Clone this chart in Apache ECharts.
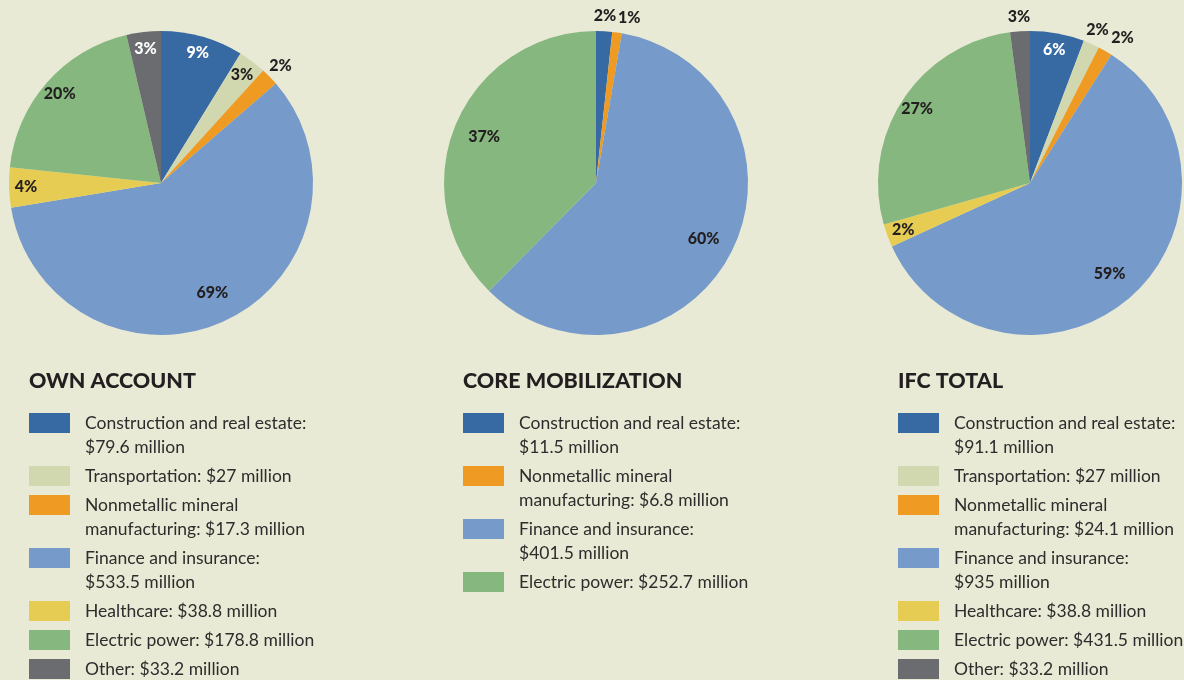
<!DOCTYPE html>
<html>
<head>
<meta charset="utf-8">
<script src="https://cdn.jsdelivr.net/npm/echarts@6/dist/echarts.min.js"></script>
<style>
  html, body { margin: 0; padding: 0; background: #e9ead5; }
  #chart { width: 1184px; height: 680px; }
</style>
</head>
<body>
<div id="chart"></div>
<script>
// sectors shared by all three pies
var sectors = ['Construction and real estate', 'Transportation', 'Nonmetallic mineral manufacturing',
  'Finance and insurance', 'Healthcare', 'Electric power', 'Other'];
var legendPrefix = ['Construction and real estate:\n', 'Transportation: ', 'Nonmetallic mineral\nmanufacturing: ',
  'Finance and insurance:\n', 'Healthcare: ', 'Electric power: ', 'Other: '];
var sectorColors = ['#3769a3', '#d1d8af', '#ef9a22', '#769bca', '#e7cc53', '#86b77e', '#6b6c70'];
var darkSector = [true, false, false, false, false, false, true];

// $ million, and the percentages as printed on the slices
var ownIdx = [0, 1, 2, 3, 4, 5, 6];
var ownValues = [79.6, 27, 17.3, 533.5, 38.8, 178.8, 33.2];
var ownPct = [9, 3, 2, 69, 4, 20, 3];

var coreIdx = [0, 2, 3, 5];
var coreValues = [11.5, 6.8, 401.5, 252.7];
var corePct = [2, 1, 60, 37];

var totalIdx = [0, 1, 2, 3, 4, 5, 6];
var totalValues = [91.1, 27, 24.1, 935, 38.8, 431.5, 33.2];
var totalPct = [6, 2, 2, 59, 2, 27, 3];

var titles = ['OWN ACCOUNT', 'CORE MOBILIZATION', 'IFC TOTAL'];

var panels = [
  { title: titles[0], idx: ownIdx, values: ownValues, pct: ownPct, cx: 161, lx: 29 },
  { title: titles[1], idx: coreIdx, values: coreValues, pct: corePct, cx: 596, lx: 463 },
  { title: titles[2], idx: totalIdx, values: totalValues, pct: totalPct, cx: 1030, lx: 898 }
];

var CY = 183, R = 152;
var FONT = 'Lato, "Open Sans", sans-serif';
var TEXT = '#231f20';

function sum(a) { return a.reduce(function (s, v) { return s + v; }, 0); }
function sizeClass(share) { return share < 0.023 ? 'small' : (share >= 0.3 ? 'big' : 'mid'); }

function mainPie(p) {
  return {
    type: 'pie', silent: true, animation: false,
    center: [p.cx, CY], radius: [0, R], startAngle: 90, clockwise: true,
    label: { show: false }, labelLine: { show: false },
    data: p.values.map(function (v, i) {
      return { name: sectors[p.idx[i]], value: v, itemStyle: { color: sectorColors[p.idx[i]] } };
    })
  };
}

// transparent ring that only carries the labels of one size class at a given distance
function labelPie(p, cls, dist) {
  var total = sum(p.values);
  var classes = p.values.map(function (v) { return sizeClass(v / total); });
  return {
    type: 'pie', silent: true, animation: false,
    center: [p.cx, CY], radius: [0, dist * 2], startAngle: 90, clockwise: true,
    itemStyle: { color: 'rgba(0,0,0,0)' }, labelLine: { show: false },
    emphasis: { disabled: true },
    labelLayout: { hideOverlap: false },
    label: {
      position: 'inside', fontFamily: FONT, fontWeight: 900, fontSize: 16,
      formatter: function (q) { return p.pct[q.dataIndex] + '%'; }
    },
    data: p.values.map(function (v, i) {
      var c = classes[i];
      var white = c !== 'small' && darkSector[p.idx[i]];
      // a small label right after another small one is pushed aside
      var follows = c === 'small' && i > 0 && classes[i - 1] === 'small';
      return {
        name: sectors[p.idx[i]], value: v,
        itemStyle: { color: 'rgba(0,0,0,0)' },
        label: { show: c === cls, color: white ? '#ffffff' : TEXT, padding: follows ? [6, 0, 0, 20] : 0 }
      };
    })
  };
}

var series = [], legends = [], titleList = [];
panels.forEach(function (p) { series.push(mainPie(p)); });
panels.forEach(function (p) {
  series.push(labelPie(p, 'big', 118));
  series.push(labelPie(p, 'mid', 132));
  series.push(labelPie(p, 'small', 164));
});

panels.forEach(function (p) {
  titleList.push({
    text: p.title, left: p.lx, top: 370, padding: 0,
    textStyle: { fontFamily: FONT, fontWeight: 900, fontSize: 21.5, color: TEXT }
  });
  var squareTop = 413;
  p.values.forEach(function (v, i) {
    var k = p.idx[i];
    var twoLines = legendPrefix[k].indexOf('\n') >= 0;
    var label = legendPrefix[k] + '$' + v + ' million';
    legends.push({
      orient: 'vertical', left: p.lx, top: squareTop - 2, padding: 0,
      itemWidth: 41, itemHeight: twoLines ? 44 : 20, itemGap: 0,
      selectedMode: false,
      data: [{
        name: sectors[k],
        icon: twoLines ? 'path://M0,0L41,0L41,20L0,20ZM41,44' : 'rect',
        itemStyle: { color: sectorColors[k], borderWidth: 0 }
      }],
      formatter: function () { return label; },
      textStyle: { fontFamily: FONT, fontSize: 17.5, lineHeight: 24, color: '#2e2c2c', padding: [0, 0, 0, 10] }
    });
    squareTop += twoLines ? 53 : 29;
  });
});

var chart = echarts.init(document.getElementById('chart'), null, { renderer: 'canvas' });
chart.setOption({
  backgroundColor: '#e9ead5',
  animation: false,
  title: titleList,
  legend: legends,
  series: series
});
</script>
</body>
</html>
